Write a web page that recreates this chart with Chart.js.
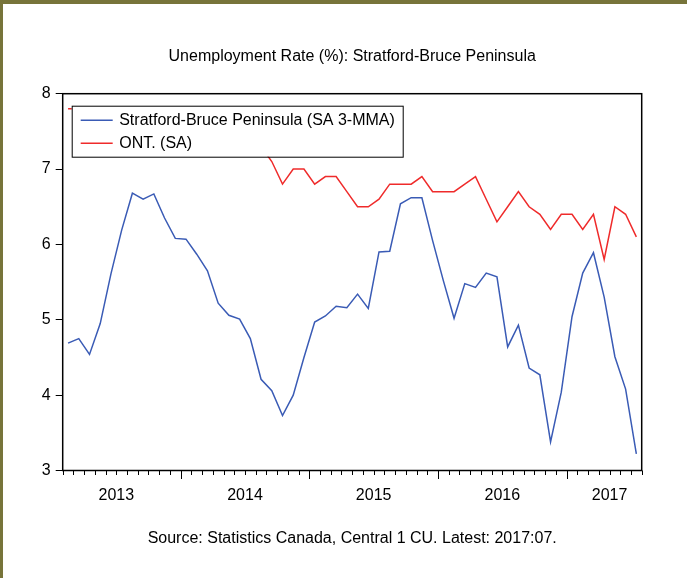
<!DOCTYPE html>
<html><head><meta charset="utf-8">
<script src="https://cdn.jsdelivr.net/npm/chart.js@4.4.1/dist/chart.umd.min.js"></script>
<style>
html,body{margin:0;padding:0;background:#fff;}
#wrap{position:relative;width:687px;height:578px;overflow:hidden;background:#fff;}
#wrap canvas{position:absolute;left:0;top:0;}
#bt{position:absolute;left:0;top:0;width:687px;height:4px;background:#77743a;}
#bl{position:absolute;left:0;top:0;width:3px;height:578px;background:#77743a;}
</style></head><body>
<div id="wrap"><canvas id="c" width="687" height="578"></canvas><div id="bt"></div><div id="bl"></div></div>
<script>
const months = [
 '2013-02','2013-03','2013-04','2013-05','2013-06','2013-07','2013-08','2013-09','2013-10','2013-11','2013-12',
 '2014-01','2014-02','2014-03','2014-04','2014-05','2014-06','2014-07','2014-08','2014-09','2014-10','2014-11','2014-12',
 '2015-01','2015-02','2015-03','2015-04','2015-05','2015-06','2015-07','2015-08','2015-09','2015-10','2015-11','2015-12',
 '2016-01','2016-02','2016-03','2016-04','2016-05','2016-06','2016-07','2016-08','2016-09','2016-10','2016-11','2016-12',
 '2017-01','2017-02','2017-03','2017-04','2017-05','2017-06','2017-07'
];
const stratford = [
 4.69,4.75,4.54,4.95,5.61,6.19,6.68,6.60,6.67,6.35,6.08,
 6.07,5.87,5.65,5.22,5.06,5.01,4.75,4.21,4.06,3.73,4.00,4.50,
 4.97,5.05,5.18,5.16,5.34,5.15,5.90,5.91,6.54,6.62,6.62,6.05,
 5.52,5.02,5.48,5.43,5.62,5.57,4.64,4.93,4.36,4.27,3.38,4.04,
 5.04,5.62,5.89,5.30,4.51,4.08,3.22
];
const ontario = [
 7.8,7.8,7.5,7.4,7.6,7.6,7.7,7.5,7.5,7.4,7.5,
 7.6,7.4,7.5,7.5,7.4,7.5,7.5,7.3,7.1,6.8,7.0,7.0,
 6.8,6.9,6.9,6.7,6.5,6.5,6.6,6.8,6.8,6.8,6.9,6.7,
 6.7,6.7,6.8,6.9,6.6,6.3,6.5,6.7,6.5,6.4,6.2,6.4,
 6.4,6.2,6.4,5.8,6.5,6.4,6.1
];
const seriesNames = ['Stratford-Bruce Peninsula (SA 3-MMA)', 'ONT. (SA)'];
const xTickLabels = {'2013-07':'2013','2014-07':'2014','2015-07':'2015','2016-07':'2016','2017-05':'2017'};
const yTicks = [3,4,5,6,7,8];
const titleText = 'Unemployment Rate (%): Stratford-Bruce Peninsula';
const sourceText = 'Source: Statistics Canada, Central 1 CU. Latest: 2017:07.';

const FONT = '"Liberation Sans", Arial, Helvetica, sans-serif';
const BLUE = '#3a5bb5', RED = '#ef2b2b';

const framePlugin = {
  id: 'frame',
  afterDatasetsDraw(chart) {
    const ctx = chart.ctx, a = chart.chartArea, xs = chart.scales.x;
    const n = months.length;
    const step = (xs.getPixelForValue(1) - xs.getPixelForValue(0));
    ctx.save();
    // legend box
    const lx = a.left + 9, ly = a.top + 12, lw = 331, lh = 51;
    ctx.fillStyle = '#fff';
    ctx.fillRect(lx, ly, lw, lh);
    ctx.strokeStyle = '#000';
    ctx.lineWidth = 1;
    ctx.strokeRect(lx + 0.5, ly + 0.5, lw, lh);
    const rows = [[BLUE, seriesNames[0], ly + 14.5], [RED, seriesNames[1], ly + 37.5]];
    ctx.font = '16px ' + FONT;
    ctx.textBaseline = 'middle';
    ctx.textAlign = 'left';
    rows.forEach(r => {
      ctx.strokeStyle = r[0]; ctx.lineWidth = 1.5;
      ctx.beginPath(); ctx.moveTo(lx + 9, r[2]); ctx.lineTo(lx + 41, r[2]); ctx.stroke();
      ctx.fillStyle = '#000';
      ctx.fillText(r[1], lx + 47.5, r[2] + 0.5);
    });
    // plot frame
    ctx.strokeStyle = '#000';
    ctx.lineWidth = 1.5;
    ctx.strokeRect(a.left, a.top, a.right - a.left, a.bottom - a.top);
    // x tick marks at month boundaries
    ctx.lineWidth = 1;
    for (let i = 0; i <= n; i++) {
      const px = Math.round(xs.getPixelForValue(0) + (i - 0.5) * step) + 0.5;
      const m = i < n ? months[i] : '2017-08';
      const major = m.endsWith('-01');
      ctx.beginPath();
      ctx.moveTo(px, a.bottom);
      ctx.lineTo(px, a.bottom + (major ? 8.5 : 4.5));
      ctx.stroke();
    }
    ctx.restore();
  }
};

const tickFont = {family: FONT, size: 16};
new Chart(document.getElementById('c'), {
  type: 'line',
  data: {
    labels: months,
    datasets: [
      {label: seriesNames[0], data: stratford, borderColor: BLUE, borderWidth: 1.5, pointRadius: 0, tension: 0, fill: false},
      {label: seriesNames[1], data: ontario, borderColor: RED, borderWidth: 1.5, pointRadius: 0, tension: 0, fill: false}
    ]
  },
  options: {
    responsive: false, animation: false, devicePixelRatio: 1,
    layout: {padding: {left: 0, right: 45.3, top: 0, bottom: 0}},
    plugins: {
      legend: {display: false},
      tooltip: {enabled: false},
      title: {display: true, text: titleText, fullSize: false, color: '#000',
              font: {family: FONT, size: 16, weight: 'normal'}, padding: {top: 46.9, bottom: 27.6}},
      subtitle: {display: true, position: 'bottom', text: sourceText, fullSize: false, color: '#000',
              font: {family: FONT, size: 16, weight: 'normal'}, padding: {top: 18.9, bottom: 29.4}}
    },
    scales: {
      x: {
        type: 'category', offset: true,
        grid: {display: false, drawTicks: false},
        border: {display: false},
        ticks: {autoSkip: false, maxRotation: 0, minRotation: 0, labelOffset: -5.36, padding: 15,
                color: '#000', font: tickFont,
                callback: function(v, i) { return xTickLabels[months[i]] || ''; }},
        afterFit(s) { s.height = 40; }
      },
      y: {
        min: 3, max: 8,
        afterBuildTicks(s) { s.ticks = yTicks.map(v => ({value: v})); },
        ticks: {padding: 5, color: '#000', font: tickFont},
        grid: {drawOnChartArea: false, tickLength: 7, tickColor: '#000', tickWidth: 1},
        border: {display: false},
        afterFit(s) { s.width = 62.7; }
      }
    }
  },
  plugins: [framePlugin]
});
</script>
</body></html>
